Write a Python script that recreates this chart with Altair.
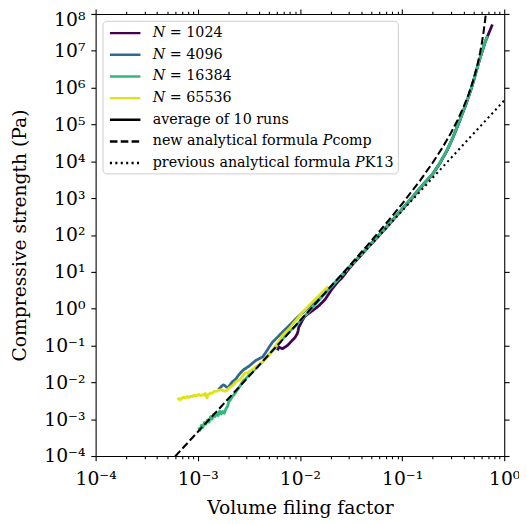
import altair as alt
import pandas as pd

# ---------------- data (log10 values) ----------------
# (log10 volume filling factor, log10 compressive strength [Pa])
n1024 = [(-2.220, -1.133), (-2.212, -1.080), (-2.204, -1.042), (-2.190, -1.065), (-2.172, -1.087),
         (-2.150, -1.050), (-2.123, -0.999), (-2.105, -0.950), (-2.092, -0.908), (-2.075, -0.860),
         (-2.060, -0.820), (-2.043, -0.760), (-2.027, -0.686), (-2.018, -0.600), (-2.012, -0.507),
         (-1.995, -0.420), (-1.979, -0.331), (-1.963, -0.260), (-1.947, -0.197), (-1.915, -0.130),
         (-1.882, -0.064), (-1.850, 0.000), (-1.819, 0.070), (-1.785, 0.160), (-1.754, 0.249),
         (-1.720, 0.390), (-1.690, 0.516), (-1.655, 0.640), (-1.626, 0.738), (-1.590, 0.830),
         (-1.550, 0.975), (-1.500, 1.150), (-1.400, 1.460), (-1.300, 1.760), (-1.200, 2.060),
         (-1.100, 2.370), (-1.000, 2.690), (-0.900, 3.010), (-0.800, 3.340), (-0.700, 3.650),
         (-0.629, 3.950), (-0.560, 4.290), (-0.501, 4.650), (-0.440, 5.070), (-0.373, 5.560),
         (-0.320, 5.990), (-0.277, 6.410), (-0.240, 6.770), (-0.212, 7.010), (-0.190, 7.210),
         (-0.164, 7.390), (-0.140, 7.550), (-0.116, 7.713)]

n4096 = [(-2.800, -2.190), (-2.783, -2.156), (-2.765, -2.100), (-2.750, -2.068), (-2.735, -2.090),
         (-2.718, -2.130), (-2.702, -2.137), (-2.680, -2.050), (-2.660, -1.980), (-2.640, -1.940),
         (-2.622, -1.889), (-2.600, -1.800), (-2.580, -1.740), (-2.557, -1.667), (-2.530, -1.620),
         (-2.510, -1.580), (-2.493, -1.549), (-2.460, -1.470), (-2.429, -1.400), (-2.400, -1.360),
         (-2.380, -1.330), (-2.364, -1.309), (-2.330, -1.170), (-2.301, -1.042), (-2.268, -0.908),
         (-2.236, -0.820), (-2.190, -0.690), (-2.140, -0.553), (-2.090, -0.420), (-2.043, -0.285),
         (-1.995, -0.160), (-1.947, -0.045), (-1.900, 0.080), (-1.851, 0.196), (-1.800, 0.320),
         (-1.754, 0.436), (-1.700, 0.590), (-1.600, 0.880), (-1.500, 1.180), (-1.400, 1.480),
         (-1.300, 1.780), (-1.200, 2.080), (-1.100, 2.390), (-1.000, 2.710), (-0.900, 3.030),
         (-0.800, 3.360), (-0.700, 3.660), (-0.629, 3.960), (-0.560, 4.300), (-0.501, 4.660),
         (-0.440, 5.080), (-0.373, 5.570), (-0.320, 6.000), (-0.277, 6.420), (-0.240, 6.780),
         (-0.212, 7.020), (-0.190, 7.220), (-0.164, 7.400)]

n16384 = [(-2.991, -3.225), (-2.978, -3.300), (-2.965, -3.170), (-2.950, -3.220), (-2.935, -3.090),
          (-2.920, -3.130), (-2.905, -3.020), (-2.890, -3.080), (-2.875, -2.930), (-2.860, -3.000),
          (-2.845, -2.870), (-2.830, -2.930), (-2.815, -2.840), (-2.800, -2.900), (-2.785, -2.780),
          (-2.770, -2.860), (-2.755, -2.790), (-2.740, -2.840), (-2.725, -2.720), (-2.710, -2.660),
          (-2.695, -2.520), (-2.680, -2.470), (-2.660, -2.380), (-2.640, -2.320), (-2.622, -2.240),
          (-2.600, -2.160), (-2.575, -2.050), (-2.557, -1.970), (-2.530, -1.900), (-2.500, -1.810),
          (-2.461, -1.700), (-2.420, -1.590), (-2.364, -1.440), (-2.320, -1.300), (-2.268, -1.140),
          (-2.220, -0.990), (-2.172, -0.830), (-2.110, -0.640), (-2.043, -0.470), (-1.980, -0.280),
          (-1.918, -0.100), (-1.850, 0.110), (-1.800, 0.270), (-1.700, 0.570), (-1.600, 0.870),
          (-1.500, 1.170), (-1.400, 1.470), (-1.300, 1.770), (-1.200, 2.070), (-1.100, 2.380),
          (-1.000, 2.700), (-0.900, 3.020), (-0.800, 3.350), (-0.700, 3.660), (-0.629, 3.960),
          (-0.560, 4.300), (-0.501, 4.660), (-0.440, 5.080), (-0.373, 5.570), (-0.320, 6.000),
          (-0.277, 6.420), (-0.240, 6.780), (-0.212, 7.020), (-0.190, 7.220), (-0.164, 7.400)]

n65536 = [(-3.200, -2.469), (-3.185, -2.440), (-3.170, -2.470), (-3.155, -2.420), (-3.135, -2.405),
          (-3.120, -2.430), (-3.100, -2.380), (-3.085, -2.410), (-3.072, -2.378), (-3.055, -2.390),
          (-3.040, -2.350), (-3.020, -2.370), (-3.007, -2.351), (-2.990, -2.330), (-2.975, -2.360),
          (-2.960, -2.340), (-2.943, -2.351), (-2.925, -2.300), (-2.911, -2.423), (-2.895, -2.330),
          (-2.879, -2.290), (-2.860, -2.300), (-2.840, -2.250), (-2.814, -2.244), (-2.790, -2.210),
          (-2.766, -2.201), (-2.740, -2.240), (-2.718, -2.228), (-2.695, -2.160), (-2.670, -2.111),
          (-2.645, -2.050), (-2.622, -1.977), (-2.600, -1.950), (-2.574, -1.889), (-2.560, -1.830),
          (-2.542, -1.755), (-2.520, -1.750), (-2.493, -1.710), (-2.460, -1.640), (-2.429, -1.576),
          (-2.400, -1.520), (-2.364, -1.443), (-2.330, -1.360), (-2.301, -1.266), (-2.270, -1.130),
          (-2.236, -0.999), (-2.200, -0.860), (-2.172, -0.732), (-2.140, -0.640), (-2.108, -0.553),
          (-2.075, -0.440), (-2.043, -0.331), (-2.010, -0.220), (-1.979, -0.106), (-1.945, -0.020),
          (-1.915, 0.070), (-1.870, 0.200), (-1.819, 0.337), (-1.770, 0.470), (-1.722, 0.604)]

p_comp = [(-3.222, -4.013), (-3.000, -3.345), (-2.523, -1.910), (-2.000, -0.329), (-1.523, 1.139),
          (-1.301, 1.841), (-1.155, 2.318), (-1.000, 2.842), (-0.824, 3.477), (-0.699, 3.967),
          (-0.602, 4.384), (-0.523, 4.762), (-0.456, 5.120), (-0.398, 5.473), (-0.347, 5.833),
          (-0.301, 6.216), (-0.260, 6.645), (-0.237, 6.939), (-0.222, 7.157), (-0.201, 7.535),
          (-0.187, 7.837), (-0.180, 8.009), (-0.174, 8.204)]

p_k13 = [(-1.600, 0.853), (0.000, 5.653)]

labels = ["𝑁 = 1024", "𝑁 = 4096", "𝑁 = 16384", "𝑁 = 65536", "average of 10 runs",
          "new analytical formula 𝑃comp", "previous analytical formula 𝑃K13"]
colors = ["#440154", "#31688e", "#35b779", "#dde318", "#000000", "#000000", "#000000"]
dashes = [[1, 0], [1, 0], [1, 0], [1, 0], [1, 0], [7.7, 3.3], [2.1, 3.4]]

x_ticks = [m * 10.0 ** e for e in range(-4, 0) for m in range(1, 10)] + [1.0]
y_ticks = [10.0 ** e for e in range(-4, 9)]

FONT = "DejaVu Serif, Liberation Serif, serif"


def frame(pairs, name):
    return pd.DataFrame({
        "phi": [10.0 ** a for a, b in pairs],
        "P": [10.0 ** b for a, b in pairs],
        "series": name,
        "i": list(range(len(pairs))),
    })


xscale = alt.Scale(type="log", domain=[1e-4, 1.0], nice=False)
yscale = alt.Scale(type="log", domain=[1e-4, 1e8], nice=False)
cscale = alt.Scale(domain=labels, range=colors)
dscale = alt.Scale(domain=labels, range=dashes)

leg = alt.Legend(
    title=None, orient="none", legendX=7, legendY=7,
    fillColor="rgba(255,255,255,0.8)", strokeColor="#cccccc", cornerRadius=4,
    padding=4, rowPadding=7, labelFont=FONT, labelFontSize=14.5, labelLimit=500,
    labelColor="black", symbolType="M-0.714,0H3.714", symbolSize=196,
    symbolStrokeWidth=2.5, labelOffset=30,
)

major_test = "abs(log(datum.value)/LN10 - round(log(datum.value)/LN10)) < 0.001"
label_expr = ("(" + major_test + ") ? ('10' + (round(log(datum.value)/LN10) < 0 ? '⁻' : '') + "
              "substring('⁰¹²³⁴⁵⁶⁷⁸⁹', abs(round(log(datum.value)/LN10)), "
              "abs(round(log(datum.value)/LN10)) + 1)) : ''")
x_tick_size = {"condition": {"test": major_test, "value": 4.9}, "value": 2.8}
y_label_offset = {"condition": {"test": "datum.value > 1e7", "value": 6}, "value": 0}

x_bottom = alt.Axis(orient="bottom", values=x_ticks, labelExpr=label_expr, tickSize=x_tick_size,
                    title="Volume filing factor", labelFlush=False, labelOverlap=False,
                    labelPadding=9, titlePadding=10)
y_left = alt.Axis(orient="left", values=y_ticks, labelExpr=label_expr, tickSize=4.9,
                  title="Compressive strength (Pa)", labelFlush=False, labelOverlap=False,
                  labelPadding=6, titlePadding=14, labelOffset=y_label_offset)
x_top = alt.Axis(orient="top", values=x_ticks, labels=False, tickSize=x_tick_size, title=None)
y_right = alt.Axis(orient="right", values=y_ticks, labels=False, tickSize=4.9, title=None)


def layer(df, sw, xaxis=None, yaxis=None):
    return alt.Chart(df).mark_line(strokeWidth=sw, clip=True, strokeJoin="round").encode(
        x=alt.X("phi:Q", scale=xscale, axis=xaxis),
        y=alt.Y("P:Q", scale=yscale, axis=yaxis),
        color=alt.Color("series:N", scale=cscale, legend=leg),
        strokeDash=alt.StrokeDash("series:N", scale=dscale, legend=leg),
        order=alt.Order("i:Q"),
    )


chart = alt.layer(
    layer(frame(n1024, labels[0]), 2.8, x_bottom, y_left),
    layer(frame(n4096, labels[1]), 2.8),
    layer(frame(n16384, labels[2]), 2.8),
    layer(frame(n65536, labels[3]), 2.8),
    layer(frame(p_k13, labels[6]), 2.1),
    layer(frame(p_comp, labels[5]), 2.1, x_top, y_right),
).resolve_axis(x="independent", y="independent").properties(
    width=415, height=449,
    padding={"left": 89, "top": 2, "right": 15, "bottom": 64},
    autosize=alt.AutoSizeParams(type="none"),
).configure_view(stroke=None).configure_axis(
    domainColor="black", domainWidth=1.1, tickColor="black", tickWidth=1.1,
    labelFont=FONT, labelFontSize=19, labelColor="black",
    titleFont=FONT, titleFontSize=19, titleFontWeight="normal", titleColor="black",
    grid=False,
)

chart.save("out.html", embed_options={"renderer": "svg", "actions": False})
